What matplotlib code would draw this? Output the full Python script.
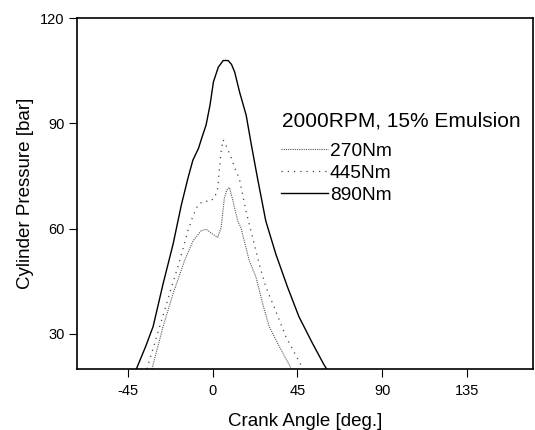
import matplotlib.pyplot as plt

plt.rcParams['font.family'] = ['Liberation Sans', 'DejaVu Sans']
plt.rcParams['axes.unicode_minus'] = False

# crank angle [deg] / cylinder pressure [bar]
ang_890 = [-40.5, -39.5, -35.5, -31.6, -26.3, -21, -16.6, -13.1, -10.5, -7.5, -5.8, -3.5,
           -1.4, 0.4, 3, 5.6, 8.2, 10, 11.7, 14.3, 17.8, 20.5, 23.8, 28.2, 33.5, 39.7,
           45.8, 52.9, 59, 60.5]
p_890 = [20, 21.3, 26.5, 32.1, 44.3, 55.6, 66.8, 74.4, 79.5, 82.9, 85.8, 89.5,
         95.2, 101.8, 106, 107.9, 107.9, 106.8, 104.6, 98.9, 92.3, 84, 74.4, 62.2, 52.8, 43.4,
         34.9, 27.4, 21.3, 20]

ang_445 = [-34.8, -34.2, -28.1, -22.8, -17.5, -13.1, -10.5, -7.8, -4.5, -1.7, 0.95, 2.7,
           3.3, 4.7, 5.6, 7.8, 10, 11.7, 14.1, 17.7, 21.2, 24.7, 28.2, 32.6, 38.8, 46.7, 47.4]
p_445 = [20, 21.3, 32.1, 41.5, 50.9, 59.4, 63.5, 66.8, 67.9, 67.7, 68.7, 71.5,
         75.4, 82.9, 85.3, 82.9, 80, 77.3, 74.4, 65, 57.5, 49.9, 43.4, 37.7, 29.3, 21.3, 20]

ang_270 = [-32.2, -31.6, -26.3, -21, -14.9, -10.4, -6.1, -3.4, 0.1, 2.7, 4.5, 6.2, 7.5,
           8.9, 10.5, 13.3, 15, 19.4, 23, 26.5, 30, 35.3, 40.5, 41.8]
p_270 = [20, 21.3, 32.1, 41.5, 50.9, 56.5, 59.4, 59.8, 58.4, 57.5, 60.3, 68.7, 71,
         71.7, 68.5, 62.2, 60.3, 50.9, 46.2, 38.7, 32.1, 26.5, 21.3, 20]

fig = plt.figure(figsize=(5.35, 4.3), dpi=100)
ax = fig.add_axes([0.144, 0.142, 0.852, 0.816])

ax.plot(ang_270, p_270, color='#555555', lw=0.8, ls=(0, (1, 1)), label='270Nm')
ax.plot(ang_445, p_445, color='#444444', lw=0.9, ls=(0, (1, 4)), label='445Nm')
ax.plot(ang_890, p_890, color='black', lw=1.0, label='890Nm')

ax.set_xlim(-72, 170)
ax.set_ylim(20, 120)
ax.set_xticks([-45, 0, 45, 90, 135])
ax.set_yticks([30, 60, 90, 120])
ax.tick_params(direction='out', width=0.8, labelsize=10.5)
ax.tick_params(axis='x', length=6, pad=5)
ax.tick_params(axis='y', length=6, pad=3)
for s in ax.spines.values():
    s.set_linewidth(1.2)

ax.set_xlabel('Crank Angle [deg.]', fontsize=13.5, labelpad=11)
ax.set_ylabel('Cylinder Pressure [bar]', fontsize=13.5, labelpad=4)

ax.text(0.449, 0.707, '2000RPM, 15% Emulsion', transform=ax.transAxes,
        fontsize=15, va='center', ha='left')
ax.legend(frameon=False, fontsize=13.8, loc='upper left', bbox_to_anchor=(0.447, 0.646),
          handlelength=2.45, handletextpad=0.1, labelspacing=0.25,
          borderpad=0, borderaxespad=0)

fig.savefig('out.png', dpi=100)
